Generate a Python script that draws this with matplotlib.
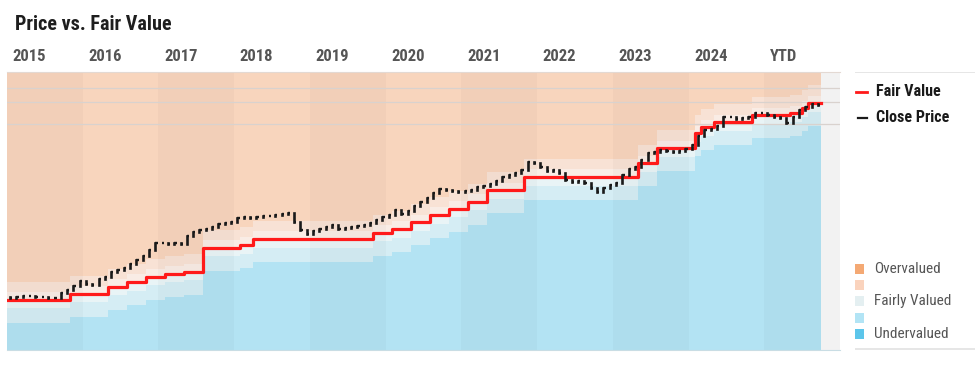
import matplotlib
matplotlib.use("Agg")
import matplotlib.pyplot as plt
from matplotlib import font_manager
from matplotlib.patches import Rectangle
from matplotlib.lines import Line2D

# ---- data ----
year_labels = ["2015", "2016", "2017", "2018", "2019", "2020",
               "2021", "2022", "2023", "2024", "YTD"]

fv_dates = ["2015-01", "2015-11", "2016-05", "2016-08", "2016-11", "2017-02",
            "2017-05", "2017-08", "2018-02", "2018-04", "2019-11", "2020-02",
            "2020-05", "2020-08", "2020-11", "2021-02", "2021-05", "2021-11",
            "2023-05", "2023-08", "2024-02", "2024-03", "2024-05", "2024-11",
            "2025-05", "2025-07", "2025-08"]
fv_values = [37.4, 40.3, 44.0, 46.8, 49.9, 51.8, 53.1, 71.7, 74.4, 80.2,
             86.5, 90.9, 99.2, 108.3, 116.8, 127.5, 148.1, 174.3, 207.6, 250.6,
             302.2, 325.8, 346.8, 378.7, 388.2, 413.3, 440.0]

# monthly closes, Jan 2015 onwards
close_prices = [
    38.3, 38.8, 39.3, 39.3, 38.8, 38.8, 38.3, 38.3, 40.8, 42.4, 44.5, 47.4,
    45.7, 45.1, 48.6, 49.8, 53.1, 54.4, 55.8, 58.6, 61.6, 64.8, 69.9, 76.3,
    76.3, 75.3, 76.3, 75.3, 83.2, 87.5, 89.7, 90.8, 93.2, 96.7, 97.9, 99.2,
    104.3, 105.6, 104.3, 105.6, 106.9, 106.9, 108.2, 109.6, 111.0, 99.2, 89.7, 85.3,
    88.6, 90.8, 93.2, 95.5, 90.8, 92.0, 93.2, 94.3, 95.5, 97.9, 101.7, 105.6,
    108.2, 115.2, 109.6, 113.8, 121.2, 127.4, 133.9, 142.6, 149.9, 148.0, 146.2, 144.4,
    146.2, 148.0, 153.7, 155.6, 159.5, 165.7, 174.2, 178.6, 183.1, 190.1, 210.1, 207.5,
    197.4, 187.7, 190.1, 183.1, 167.7, 163.6, 165.7, 161.6, 151.8, 144.4, 151.8, 157.6,
    161.6, 178.6, 192.5, 197.4, 215.4, 235.1, 238.1, 244.1, 241.1, 238.1, 241.1, 247.2,
    259.9, 290.9, 313.5, 317.5, 329.6, 368.9, 368.9, 359.8, 364.3, 368.9, 387.8, 387.8,
    378.3, 368.9, 364.3, 342.2, 368.9, 402.7, 418.1, 434.1, 428.7,
]
first_open = 38.8

band_levels = [0.75, 0.9, 1.0, 1.1, 1.25]
band_colors = ["#b3e3f3", "#d5edf4", "#e9f4f6", "#f9ece5", "#f8e2d5", "#f8d5bd"]
legend_colors = ["#f4a974", "#fad3bd", "#e4eff1", "#b2e4f5", "#5cc5ea"]
legend_labels = ["Overvalued", "", "Fairly Valued", "", "Undervalued"]
grid_values = [338, 447, 531]

y_min, y_max = 20, 650

# ---- fonts: prefer a condensed face like the original ----
ttf = font_manager.fontManager.ttflist
names = {f.name for f in ttf}
font_stretch = "normal"
font_name = "Roboto" if "Roboto" in names else "DejaVu Sans"
for cand in ["Roboto Condensed", "Liberation Sans Narrow", "Open Sans Condensed"]:
    if cand in names:
        font_name = cand
        break
else:
    if any(f.name == "DejaVu Sans" and f.stretch == "condensed" for f in ttf):
        font_name = "DejaVu Sans"
        font_stretch = "condensed"
plt.rcParams["font.family"] = [font_name, "DejaVu Sans"]
plt.rcParams["font.stretch"] = font_stretch
shrink = 1.0 if font_name != "Roboto" else 0.9


def month_x(s):
    y, m = s.split("-")
    return int(y) + (int(m) - 1) / 12


start_year = 2015
end_x = start_year + len(close_prices) / 12
x_right = end_x + 0.25

fig = plt.figure(figsize=(9.75, 3.8), dpi=100)
ax = fig.add_axes([7 / 975, 30 / 380, 833 / 975, 278 / 380])
ax.set_yscale("log")
ax.set_xlim(start_year, x_right)
ax.set_ylim(y_min, y_max)

# valuation bands around fair value
fx = [month_x(d) for d in fv_dates] + [end_x]
fy = fv_values + [fv_values[-1]]
edges = [[y_min] * len(fy)] + [[v * k for v in fy] for k in band_levels] + [[y_max] * len(fy)]
for i, c in enumerate(band_colors):
    ax.fill_between(fx, edges[i], edges[i + 1], step="post", color=c, lw=0, zorder=1)

# alternate year shading
for i in range(len(year_labels)):
    if i % 2 == 0:
        ax.axvspan(start_year + i, min(start_year + i + 1, end_x), color="black",
                   alpha=0.025, lw=0, zorder=2)

ax.axvspan(end_x, x_right, color="#f2f2f2", lw=0, zorder=2)
for g in grid_values:
    ax.axhline(g, color="#d9d2ce", lw=0.9, zorder=3)

# fair value line
ax.step(fx, fy, where="post", color="#ff1a1a", lw=2.3, zorder=5)

# monthly price bars
opens = [first_open] + close_prices[:-1]
xs = [start_year + (i + 0.5) / 12 for i in range(len(close_prices))]
lo = [min(o, c) for o, c in zip(opens, close_prices)]
hi = [max(o, c) for o, c in zip(opens, close_prices)]
ax.vlines(xs, lo, hi, color="#1a1a1a", lw=1.9, zorder=6, capstyle="projecting")
ax.hlines(close_prices, xs, [x + 0.03 for x in xs], color="#1a1a1a", lw=1.7, zorder=6)

for s in ["left", "right"]:
    ax.spines[s].set_visible(False)
ax.spines["top"].set_color("#e3d9d3")
ax.spines["bottom"].set_color("#c9dde4")
ax.set_xticks([])
ax.set_yticks([])
ax.minorticks_off()
ax.tick_params(which="both", left=False, bottom=False, labelleft=False)

for i, lab in enumerate(year_labels):
    ax.annotate(lab, (start_year + i, 1), xycoords=("data", "axes fraction"),
                xytext=(4, 6), textcoords="offset points", ha="left", va="bottom",
                fontsize=12 * shrink, fontweight="bold", color="#555555")

fig.text(15 / 975, 1 - 24 / 380, "Price vs. Fair Value", fontsize=14.5 * shrink,
         fontweight="bold", color="#1e1e1e", va="center", ha="left")

# legend panel
lg = fig.add_axes([855 / 975, 30 / 380, 120 / 975, 278 / 380])
lg.set_xlim(0, 120)
lg.set_ylim(278, 0)
lg.axis("off")
lg.add_line(Line2D([0, 120], [0, 0], color="#e2e2e2", lw=1.2))
lg.add_line(Line2D([0, 120], [277, 277], color="#e2e2e2", lw=1.2))
lg.add_line(Line2D([1, 12], [20, 20], color="#ff1a1a", lw=2))
lg.text(21, 20, "Fair Value", fontsize=11.5 * shrink, fontweight="bold", color="#1a1a1a", va="center")
lg.add_line(Line2D([3, 12], [46, 46], color="#1a1a1a", lw=1.6))
lg.text(21, 46, "Close Price", fontsize=11.5 * shrink, fontweight="bold", color="#1a1a1a", va="center")
for i, (c, lab) in enumerate(zip(legend_colors, legend_labels)):
    yc = 197 + i * 16.2
    lg.add_patch(Rectangle((0, yc - 5), 9, 10, color=c, lw=0))
    if lab:
        lg.text(19, yc, lab, fontsize=11 * shrink, color="#555555", va="center")

fig.savefig("out.png", dpi=100)
